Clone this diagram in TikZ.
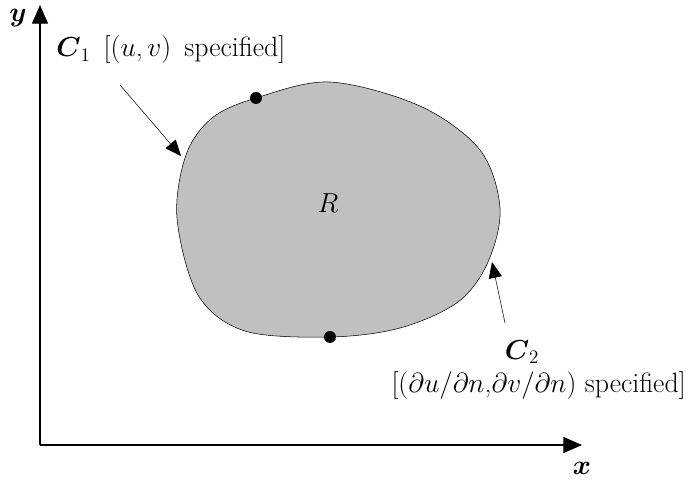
\documentclass[tikz,border=0pt]{standalone}
\usepackage{amsmath,amssymb}
\usepackage{tikz}
\usetikzlibrary{calc}
\usetikzlibrary{arrows.meta}

\begin{document}
\begin{tikzpicture}[x=0.0265cm,y=-0.0265cm]
	 \tikzstyle{axis}=[draw,thick,-{Triangle[length=14pt,width=12pt]},black]
	 \tikzstyle{pointer}=[draw,-{Triangle[length=12pt,width=10pt]},black]
	 \tikzstyle{label}=[inner sep=0pt,font=\fontsize{21}{25}\selectfont]
	 \tikzstyle{dot}=[circle,fill=black,minimum size=9pt,inner sep=0pt]
	 \useasboundingbox (0,0) rectangle (688,483);
	 \coordinate (o) at (40,445);
	 \coordinate (ytop) at (40,5);
	 \coordinate (xend) at (582,445);
	 \draw[axis] (o) -- (ytop);
	 \draw[axis] (o) -- (xend);
	 \node[label] (ylab) at (18,18) {$\boldsymbol{y}$};
	 \node[label] (xlab) at (582,468) {$\boldsymbol{x}$};
	 \draw[black,fill={rgb,255:red,192;green,192;blue,192}] plot[smooth cycle,tension=0.55] coordinates {
	   (256,98) (330,82) (420,106) (480,150) (500,208) (488,262) (458,302)
	   (400,328) (330,337) (245,331) (198,295) (177,218) (186,155) (212,118)};
	 \node[dot] (d1) at (256,98) {};
	 \node[dot] (d2) at (330,337) {};
	 \node[label] (R) at (328,203) {$R$};
	 \node[label,anchor=west] (c1) at (56,50) {$\boldsymbol{C}_1$\ \,[($u$,\,$v$)\ \,specified]};
	 \node[label] (c2) at (522,352) {$\boldsymbol{C}_2$};
	 \node[label,anchor=east] (c2txt) at (686,386) {[($\partial u/\partial n$,$\partial v/\partial n$) specified]};
	 \coordinate (c1tail) at (120,85);
	 \coordinate (c1tip) at (181,156);
	 \coordinate (c2tail) at (505,323);
	 \coordinate (c2tip) at (492,262);
	 \draw[pointer] (c1tail) -- (c1tip);
	 \draw[pointer] (c2tail) -- (c2tip);
\end{tikzpicture}
\end{document}
